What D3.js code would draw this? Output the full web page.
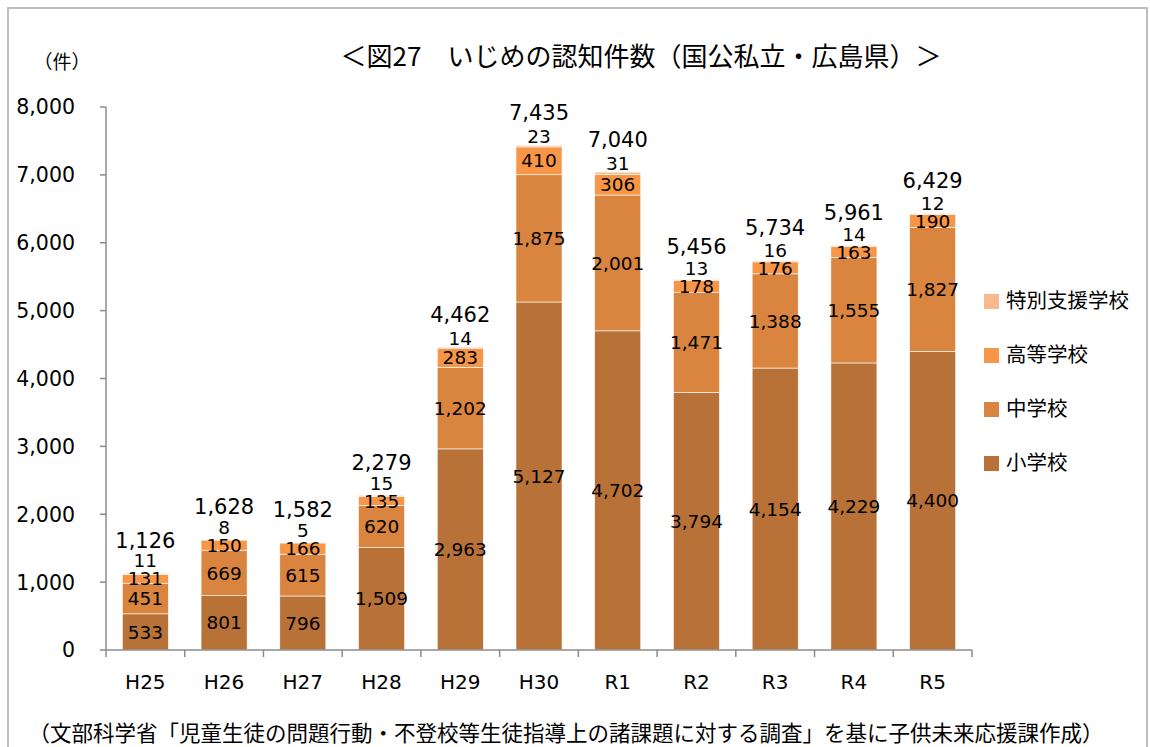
<!DOCTYPE html>
<html>
<head>
<meta charset="utf-8">
<script src="https://cdn.jsdelivr.net/npm/d3@7"></script>
<style>
  body { margin: 0; background: #fff; }
  svg text { font-family: "DejaVu Sans", "Noto Sans CJK JP", sans-serif; fill: #000; }
  .jp { font-family: "Noto Sans CJK JP", sans-serif; }
</style>
</head>
<body>
<svg id="chart" width="1150" height="747"></svg>
<script>
const years = ['H25', 'H26', 'H27', 'H28', 'H29', 'H30', 'R1', 'R2', 'R3', 'R4', 'R5'];
const elementary = [533, 801, 796, 1509, 2963, 5127, 4702, 3794, 4154, 4229, 4400];
const juniorHigh = [451, 669, 615, 620, 1202, 1875, 2001, 1471, 1388, 1555, 1827];
const highSchool = [131, 150, 166, 135, 283, 410, 306, 178, 176, 163, 190];
const special = [11, 8, 5, 15, 14, 23, 31, 13, 16, 14, 12];
const seriesNames = ['小学校', '中学校', '高等学校', '特別支援学校'];
const colors = ['#b87238', '#d9853f', '#f79646', '#f9b98f'];
const yTicks = [0, 1000, 2000, 3000, 4000, 5000, 6000, 7000, 8000];

const svg = d3.select('#chart');
const fmt = d3.format(',');

// frame
svg.append('rect')
    .attr('x', 8).attr('y', 8).attr('width', 1139).attr('height', 760)
    .attr('fill', 'none').attr('stroke', '#bfbfbf').attr('stroke-width', 2);

const x = d3.scaleBand().domain(years).range([106, 972])
    .paddingInner(0.415).paddingOuter(0.2075);
const y = d3.scaleLinear().domain([0, 8000]).range([650, 107]);

const rows = years.map((yr, i) => ({
    year: yr, 0: elementary[i], 1: juniorHigh[i], 2: highSchool[i], 3: special[i]
}));
const stack = d3.stack().keys([0, 1, 2, 3])(rows);

// bars
const g = svg.append('g');
stack.forEach((layer, k) => {
    g.selectAll(null).data(layer).enter().append('rect')
        .attr('x', d => x(d.data.year))
        .attr('width', x.bandwidth())
        .attr('y', d => y(d[1]))
        .attr('height', d => y(d[0]) - y(d[1]))
        .attr('fill', colors[k])
        .attr('stroke', '#fff').attr('stroke-width', 0.6);
});

// segment labels (first three series centred)
[0, 1, 2].forEach(k => {
    g.selectAll(null).data(stack[k]).enter().append('text')
        .attr('x', d => x(d.data.year) + x.bandwidth() / 2)
        .attr('y', d => (y(d[0]) + y(d[1])) / 2)
        .attr('dy', '0.36em')
        .attr('text-anchor', 'middle')
        .attr('font-size', 18.5)
        .text(d => fmt(d.data[k]));
});

// special-support labels sit above the bar, clear of the high-school label
g.selectAll(null).data(stack[3]).enter().append('text')
    .attr('x', d => x(d.data.year) + x.bandwidth() / 2)
    .attr('y', (d, i) => {
        const hi = stack[2][i];
        return Math.min(y(d[1]) - 9, (y(hi[0]) + y(hi[1])) / 2 - 18);
    })
    .attr('dy', '0.36em')
    .attr('text-anchor', 'middle')
    .attr('font-size', 18.5)
    .text(d => d.data[3]);

// totals
g.selectAll(null).data(stack[3]).enter().append('text')
    .attr('x', d => x(d.data.year) + x.bandwidth() / 2)
    .attr('y', d => y(d[1]) - 33)
    .attr('dy', '0.36em')
    .attr('text-anchor', 'middle')
    .attr('font-size', 21)
    .text(d => fmt(d[1]));

// y axis
const axisColor = '#8c8c8c';
svg.append('line')
    .attr('x1', 106).attr('x2', 106).attr('y1', y(8000)).attr('y2', y(0))
    .attr('stroke', axisColor).attr('stroke-width', 1.5);
svg.selectAll('.ytick').data(yTicks).enter().append('line')
    .attr('x1', 100).attr('x2', 106)
    .attr('y1', d => y(d)).attr('y2', d => y(d))
    .attr('stroke', axisColor).attr('stroke-width', 1.5);
svg.selectAll('.ylab').data(yTicks).enter().append('text')
    .attr('x', 75).attr('y', d => y(d)).attr('dy', '0.36em')
    .attr('text-anchor', 'end').attr('font-size', 20.5)
    .text(d => fmt(d));

// x axis
svg.append('line')
    .attr('x1', 106).attr('x2', 972).attr('y1', 650).attr('y2', 650)
    .attr('stroke', axisColor).attr('stroke-width', 1.5);
const step = x.step();
svg.selectAll('.xtick').data(d3.range(years.length + 1)).enter().append('line')
    .attr('x1', i => 106 + i * step).attr('x2', i => 106 + i * step)
    .attr('y1', 650).attr('y2', 657)
    .attr('stroke', axisColor).attr('stroke-width', 1.5);
svg.selectAll('.xlab').data(years).enter().append('text')
    .attr('x', d => x(d) + x.bandwidth() / 2).attr('y', 682).attr('dy', '0.36em')
    .attr('text-anchor', 'middle').attr('font-size', 20)
    .text(d => d);

// legend (top to bottom: reverse series order)
const legendOrder = [3, 2, 1, 0];
const lg = svg.append('g');
legendOrder.forEach((k, j) => {
    const cy = 301 + j * 54;
    lg.append('rect').attr('x', 984).attr('y', cy - 7).attr('width', 15).attr('height', 15)
        .attr('fill', colors[k]);
    lg.append('text').attr('class', 'jp').attr('x', 1006).attr('y', cy).attr('dy', '0.36em')
        .attr('font-size', 20.5).text(seriesNames[k]);
});

// titles
svg.append('text').attr('class', 'jp').attr('x', 641).attr('y', 57).attr('dy', '0.36em')
    .attr('text-anchor', 'middle').attr('font-size', 26)
    .text('＜図27　いじめの認知件数（国公私立・広島県）＞');
svg.append('text').attr('class', 'jp').attr('x', 62).attr('y', 62).attr('dy', '0.36em')
    .attr('text-anchor', 'middle').attr('font-size', 19)
    .text('（件）');
svg.append('text').attr('class', 'jp').attr('x', 566).attr('y', 733).attr('dy', '0.36em')
    .attr('text-anchor', 'middle').attr('font-size', 21.5)
    .text('（文部科学省「児童生徒の問題行動・不登校等生徒指導上の諸課題に対する調査」を基に子供未来応援課作成）');
</script>
</body>
</html>
